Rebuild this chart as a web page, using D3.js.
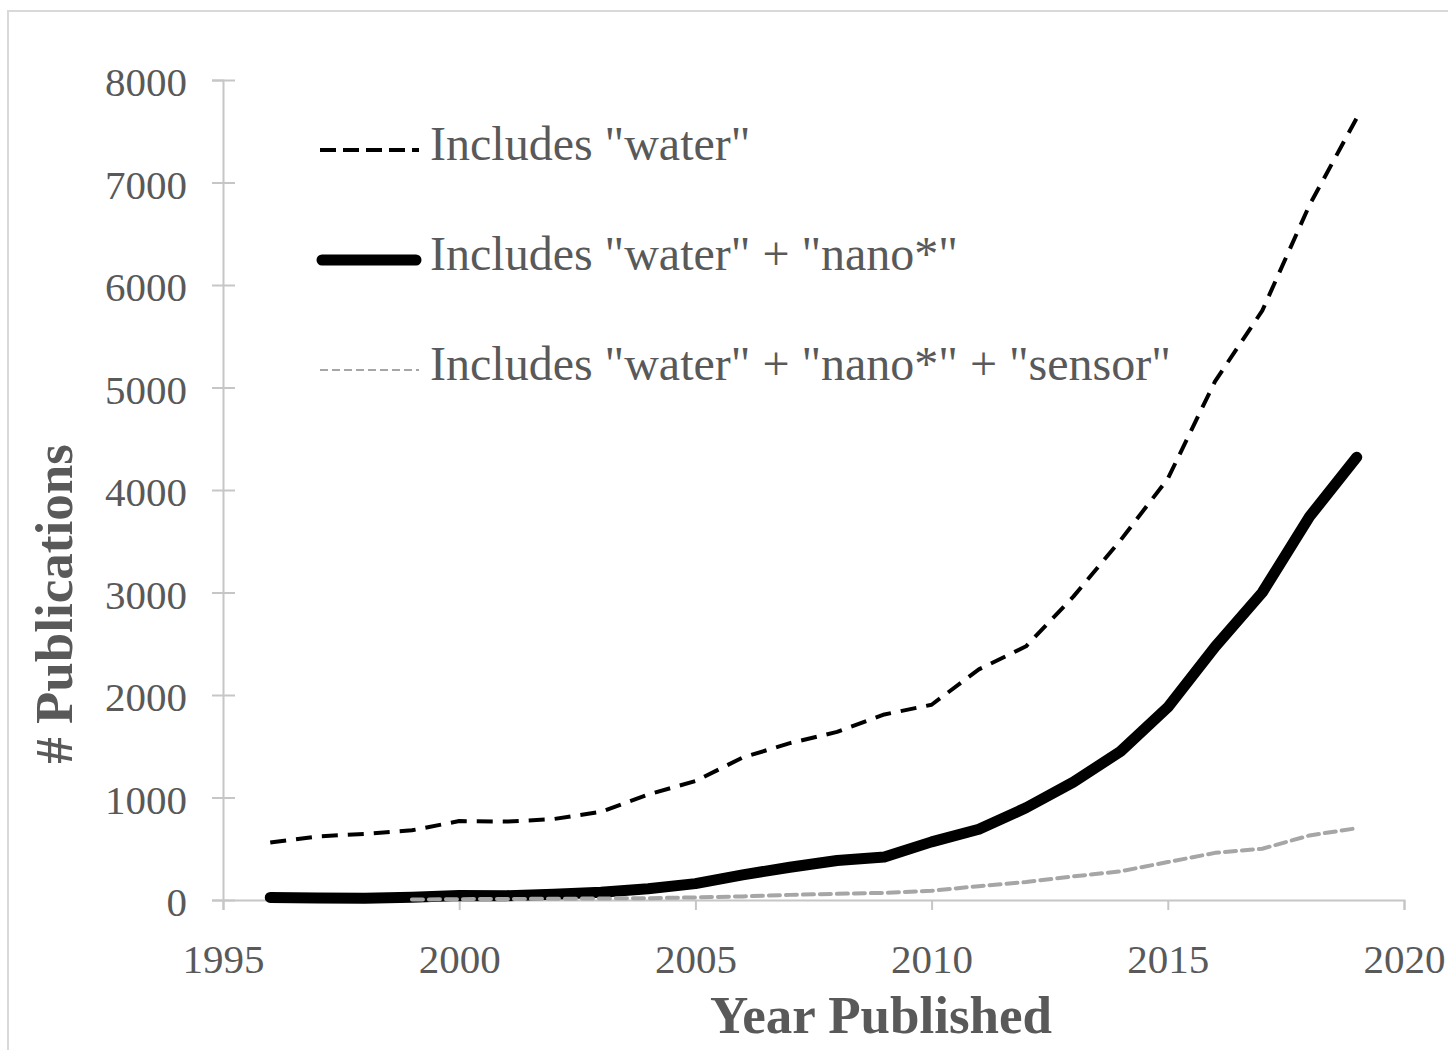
<!DOCTYPE html>
<html>
<head>
<meta charset="utf-8">
<script src="https://cdn.jsdelivr.net/npm/d3@7"></script>
<style>
  body { margin: 0; background: #fff; }
  text { font-family: "Liberation Serif", "Times New Roman", serif; fill: #595959; }
</style>
</head>
<body>
<div id="chart"></div>
<script>
// values
const years = [1996, 1997, 1998, 1999, 2000, 2001, 2002, 2003, 2004, 2005, 2006, 2007,
               2008, 2009, 2010, 2011, 2012, 2013, 2014, 2015, 2016, 2017, 2018, 2019];
const water = [560, 620, 645, 680, 770, 765, 790, 860, 1030, 1160, 1390, 1530,
               1640, 1810, 1905, 2250, 2475, 2960, 3510, 4110, 5060, 5750, 6780, 7630];
const nano = [25, 20, 18, 28, 45, 42, 55, 75, 110, 160, 245, 320,
              385, 420, 567, 690, 900, 1150, 1450, 1880, 2470, 3000, 3740, 4320];
const sensor = [null, null, null, 5, 8, 10, 12, 15, 18, 25, 35, 50,
                60, 70, 90, 135, 175, 230, 280, 370, 460, 500, 630, 700];
const seriesNames = ['Includes "water"', 'Includes "water" + "nano*"', 'Includes "water" + "nano*" + "sensor"'];
const xTicks = [1995, 2000, 2005, 2010, 2015, 2020];
const yTicks = [0, 1000, 2000, 3000, 4000, 5000, 6000, 7000, 8000];

const width = 1448, height = 1050,
  margin = ({top: 80, right: 44, bottom: 150, left: 223});

const svg = d3.select("#chart").append("svg")
  .attr("width", width).attr("height", height);

// outer chart border
svg.append("rect")
  .attr("x", 8).attr("y", 11)
  .attr("width", width + 20).attr("height", height + 20)
  .attr("fill", "none").attr("stroke", "#d9d9d9").attr("stroke-width", 2);

const x = d3.scaleLinear().domain([1995, 2020]).range([margin.left, width - margin.right]);
const y = d3.scaleLinear().domain([0, 8000]).range([height - margin.bottom, margin.top]);

// y axis, ticks cross the line
svg.append("g")
  .attr("transform", `translate(${margin.left},0)`)
  .call(d3.axisLeft(y).tickValues(yTicks).tickSize(11).tickPadding(25).tickFormat(d3.format("d")))
  .call(g => g.select(".domain").attr("stroke", "#c6c6c6").attr("stroke-width", 2))
  .call(g => g.selectAll(".tick line").attr("x1", 12).attr("stroke", "#c6c6c6").attr("stroke-width", 2))
  .call(g => g.selectAll(".tick text").attr("font-size", 41).attr("dy", "0.38em")
    .style("font-family", '"Liberation Serif", serif').attr("fill", "#595959"));

// x axis
svg.append("g")
  .attr("transform", `translate(0,${height - margin.bottom})`)
  .call(d3.axisBottom(x).tickValues(xTicks).tickSize(10).tickPadding(34).tickFormat(d3.format("d")))
  .call(g => g.select(".domain").attr("stroke", "#c6c6c6").attr("stroke-width", 2))
  .call(g => g.selectAll(".tick line").attr("stroke", "#c6c6c6").attr("stroke-width", 2))
  .call(g => g.selectAll(".tick text").attr("font-size", 41)
    .style("font-family", '"Liberation Serif", serif').attr("fill", "#595959"));

// axis titles
svg.append("text")
  .attr("x", 881).attr("y", 1033)
  .attr("text-anchor", "middle")
  .attr("font-size", 53).attr("font-weight", "bold")
  .text("Year Published");

svg.append("text")
  .attr("transform", "translate(72,604) rotate(-90)")
  .attr("text-anchor", "middle")
  .attr("font-size", 53).attr("font-weight", "bold")
  .text("# Publications");

// lines
const styles = [
  {values: water, stroke: "#000", width: 4, dash: "16,10", cap: "butt"},
  {values: nano, stroke: "#000", width: 11, dash: null, cap: "round"},
  {values: sensor, stroke: "#a6a6a6", width: 4, dash: "11,6", cap: "round"}
];

const line = d3.line()
  .defined(d => d[1] != null)
  .x(d => x(d[0]))
  .y(d => y(d[1]));

for (let s of styles) {
  svg.append("path")
    .datum(years.map((yr, i) => [yr, s.values[i]]))
    .attr("fill", "none")
    .attr("stroke", s.stroke)
    .attr("stroke-width", s.width)
    .attr("stroke-dasharray", s.dash)
    .attr("stroke-linecap", s.cap)
    .attr("stroke-linejoin", "round")
    .attr("d", line);
}

// legend
const legendY = [150, 260, 370];
const legendWidths = [4, 11, 2];
const legend = svg.selectAll(".legend")
  .data(seriesNames)
  .join("g")
  .attr("class", "legend")
  .attr("transform", (d, i) => `translate(0,${legendY[i]})`);

legend.append("line")
  .attr("x1", (d, i) => i == 1 ? 322 : 320)
  .attr("x2", (d, i) => i == 1 ? 416 : 419)
  .attr("stroke", (d, i) => styles[i].stroke)
  .attr("stroke-width", (d, i) => legendWidths[i])
  .attr("stroke-linecap", (d, i) => i == 1 ? "round" : "butt")
  .attr("stroke-dasharray", (d, i) => i == 0 ? "16,7" : i == 2 ? "8,4" : null);

legend.append("text")
  .attr("x", 430)
  .attr("y", 10)
  .attr("font-size", 48)
  .text(d => d);
</script>
</body>
</html>
